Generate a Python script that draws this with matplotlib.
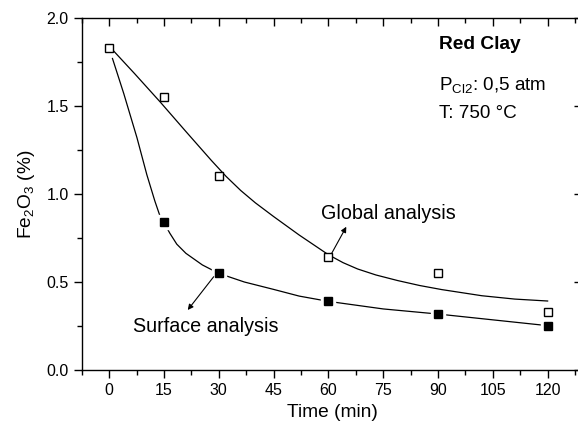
import numpy as np
import matplotlib
matplotlib.use("Agg")
import matplotlib.pyplot as plt

plt.rcParams['font.family'] = ['Liberation Sans', 'DejaVu Sans']
plt.rcParams['mathtext.fontset'] = 'custom'
plt.rcParams['mathtext.rm'] = 'Liberation Sans'
plt.rcParams['mathtext.it'] = 'Liberation Sans:italic'
plt.rcParams['mathtext.bf'] = 'Liberation Sans:bold'

# measured points
time = [0, 15, 30, 60, 90, 120]
global_fe = [1.83, 1.55, 1.10, 0.64, 0.55, 0.33]
surface_time = [15, 30, 60, 90, 120]
surface_fe = [0.84, 0.55, 0.39, 0.32, 0.25]

# fitted curves
global_fit_t = [0, 7, 14, 21, 28, 32, 36, 40, 45, 52, 60, 64, 68, 73, 79, 85, 91, 102, 111, 120]
global_fit = [1.84, 1.683, 1.522, 1.355, 1.19, 1.10, 1.02, 0.95, 0.872, 0.767, 0.655, 0.61,
              0.574, 0.54, 0.508, 0.48, 0.457, 0.422, 0.403, 0.392]
surface_fit_t = [0.9, 4, 7.6, 10.3, 12.5, 13.9, 15, 16.6, 18.5, 21, 25.5, 30, 37, 45, 52, 60,
                 75, 90, 105, 120]
surface_fit = [1.77, 1.57, 1.32, 1.11, 0.96, 0.875, 0.837, 0.777, 0.715, 0.663, 0.597, 0.549,
               0.50, 0.458, 0.42, 0.39, 0.347, 0.318, 0.285, 0.252]

fig = plt.figure(figsize=(5.78, 4.25), dpi=100)
ax = fig.add_axes([0.1415, 0.1294, 0.866, 0.8282])

ax.plot(global_fit_t, global_fit, color='black', lw=0.9, zorder=2)
ax.plot(surface_fit_t, surface_fit, color='black', lw=0.9, zorder=2)

# white halo so the line breaks around the filled markers
ax.plot(surface_time, surface_fe, ls='none', marker='s', ms=9.5, mfc='white', mec='white', zorder=3)
ax.plot(surface_time, surface_fe, ls='none', marker='s', ms=6, mfc='black', mec='black', zorder=4)
ax.plot(time, global_fe, ls='none', marker='s', ms=6, mfc='white', mec='black', mew=1.0, zorder=4)

ax.set_xlim(-4.9, 129.5)
ax.set_ylim(0, 2.0)
ax.set_xticks(np.arange(0, 121, 15))
ax.set_xticks(np.arange(-7.5, 129, 7.5), minor=True)
ax.set_yticks(np.arange(0, 2.01, 0.5))
ax.set_yticks(np.arange(0.25, 2.0, 0.5), minor=True)
ax.yaxis.set_major_formatter(matplotlib.ticker.FormatStrFormatter('%.1f'))

ax.tick_params(axis='both', which='major', direction='out', length=6, width=1, labelsize=11.5)
ax.tick_params(axis='both', which='minor', direction='out', length=3.5, width=1)
ax.tick_params(axis='x', which='both', top=True)
ax.tick_params(axis='y', which='major', right=True)

# top/right ticks point inward
for t in ax.xaxis.get_major_ticks() + ax.xaxis.get_minor_ticks():
    t.tick2line.set_marker(matplotlib.lines.TICKDOWN)
for t in ax.yaxis.get_major_ticks():
    t.tick2line.set_marker(matplotlib.lines.TICKLEFT)

for s in ax.spines.values():
    s.set_linewidth(1.0)

ax.set_xlabel('Time (min)', fontsize=13.8, labelpad=4)
ax.set_ylabel(r'Fe$_2$O$_3$ (%)', fontsize=13.8, labelpad=7)

ax.text(90.2, 1.852, 'Red Clay', fontsize=13.8, fontweight='bold', va='center', ha='left')
ax.text(90.2, 1.62, r'P$_{\mathrm{Cl2}}$: 0,5 atm', fontsize=13.6, va='center', ha='left')
ax.text(90.2, 1.46, 'T: 750 °C', fontsize=13.6, va='center', ha='left')

ax.text(26.4, 0.246, 'Surface analysis', fontsize=14.2, va='center', ha='center')
ax.annotate('', xy=(21.5, 0.341), xytext=(28.6, 0.53),
            arrowprops=dict(arrowstyle='-|>', lw=0.8, color='black', mutation_scale=8,
                            shrinkA=0, shrinkB=0))
ax.text(76.3, 0.89, 'Global analysis', fontsize=14.2, va='center', ha='center')
ax.annotate('', xy=(64.9, 0.814), xytext=(60.9, 0.663),
            arrowprops=dict(arrowstyle='-|>', lw=0.8, color='black', mutation_scale=8,
                            shrinkA=0, shrinkB=0))

fig.savefig('out.png', dpi=100)
